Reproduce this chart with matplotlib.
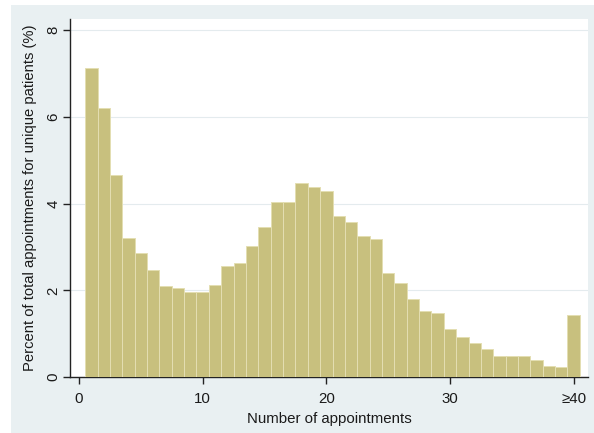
import matplotlib
matplotlib.use("Agg")
import matplotlib.pyplot as plt
from matplotlib.patches import Rectangle

plt.rcParams['font.family'] = ['Liberation Sans', 'DejaVu Sans']

# Number of appointments per patient (40 = 40 or more)
appointments = list(range(1, 41))
percent = [7.13, 6.21, 4.67, 3.20, 2.87, 2.48, 2.11, 2.05, 1.95, 1.95,
           2.13, 2.55, 2.62, 3.03, 3.45, 4.04, 4.04, 4.48, 4.38, 4.30,
           3.71, 3.58, 3.25, 3.19, 2.40, 2.18, 1.79, 1.53, 1.48, 1.11,
           0.92, 0.79, 0.64, 0.49, 0.49, 0.49, 0.39, 0.26, 0.22, 1.42]

x_ticks = [0, 10, 20, 30, 40]
x_tick_labels = ["0", "10", "20", "30", "\u226540"]
y_ticks = [0, 2, 4, 6, 8]

W, H = 594, 433
fig = plt.figure(figsize=(W / 100, H / 100), dpi=100)
fig.patch.set_facecolor("white")

# graph region background
fig.add_artist(Rectangle((11 / W, 0), 1 - 11 / W, 1 - 5 / H,
                         transform=fig.transFigure, facecolor="#E9F0F2",
                         edgecolor="none", zorder=-10))

ax = fig.add_axes([70 / W, (H - 377) / H, (588 - 70) / W, (377 - 19) / H])
ax.set_zorder(1)
ax.set_facecolor("white")

ax.bar(appointments, percent, width=1.0, align="center",
       color="#C8C07E", edgecolor="#E4DEB2", linewidth=0.7, zorder=3)

ax.set_xlim(-0.728, 41.16)
ax.set_ylim(0, 8.26)

ax.set_yticks(y_ticks)
ax.set_yticklabels([str(v) for v in y_ticks], rotation=90, va="center")
ax.set_xticks(x_ticks)
ax.set_xticklabels(x_tick_labels)

ax.grid(axis="y", color="#E4EBEE", linewidth=0.8, zorder=0)
ax.grid(axis="x", visible=False)

for side in ("top", "right"):
    ax.spines[side].set_visible(False)
for side in ("left", "bottom"):
    ax.spines[side].set_color("#222222")
    ax.spines[side].set_linewidth(1.0)

ax.tick_params(axis="both", direction="out", length=4.8, width=1.0,
               color="#222222", labelsize=10.8, labelcolor="#1a1a1a")
ax.tick_params(axis="y", pad=2.2)
ax.tick_params(axis="x", pad=6.0)

ax.set_xlabel("Number of appointments", fontsize=10.8, color="#1a1a1a",
              labelpad=4.5)
ax.set_ylabel("Percent of total appointments for unique patients (%)",
              fontsize=10.6, color="#1a1a1a", labelpad=7)

fig.savefig("out.png", dpi=100, facecolor=fig.get_facecolor())
